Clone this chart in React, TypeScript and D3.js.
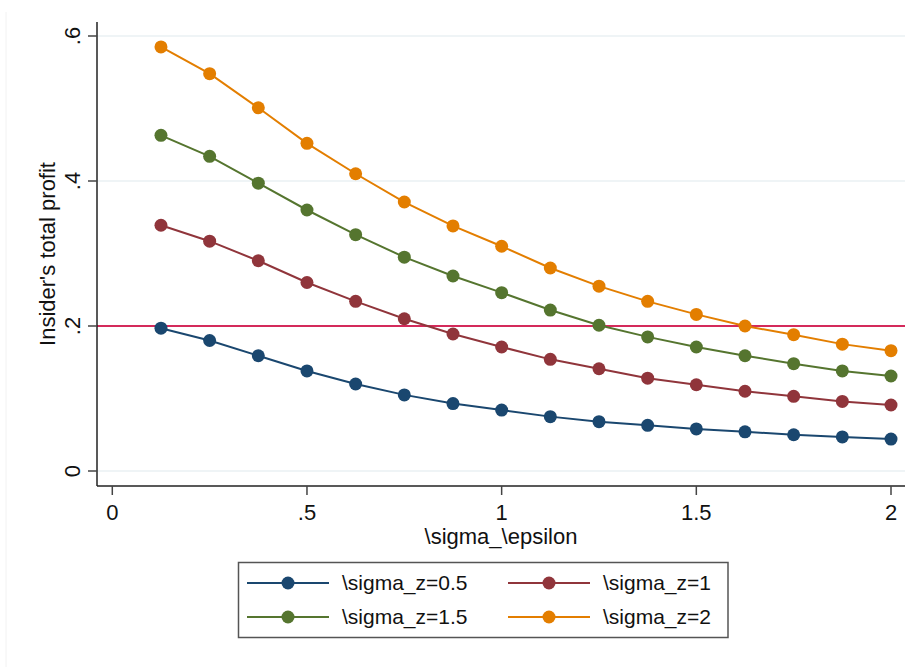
import React from "react";
import * as d3 from "d3";

const xValues = [0.125, 0.25, 0.375, 0.5, 0.625, 0.75, 0.875, 1, 1.125, 1.25, 1.375, 1.5, 1.625, 1.75, 1.875, 2];
const sz05 = [0.197, 0.180, 0.159, 0.138, 0.120, 0.105, 0.093, 0.084, 0.075, 0.068, 0.063, 0.058, 0.054, 0.050, 0.047, 0.044];
const sz1 = [0.339, 0.317, 0.290, 0.260, 0.234, 0.210, 0.189, 0.171, 0.154, 0.141, 0.128, 0.119, 0.110, 0.103, 0.096, 0.091];
const sz15 = [0.463, 0.434, 0.397, 0.360, 0.326, 0.295, 0.269, 0.246, 0.222, 0.201, 0.185, 0.171, 0.159, 0.148, 0.138, 0.131];
const sz2 = [0.585, 0.548, 0.501, 0.452, 0.410, 0.371, 0.338, 0.310, 0.280, 0.255, 0.234, 0.216, 0.200, 0.188, 0.175, 0.166];
const seriesNames = ["\\sigma_z=0.5", "\\sigma_z=1", "\\sigma_z=1.5", "\\sigma_z=2"];
const seriesColors = ["#1a476f", "#90353b", "#55752f", "#e37e00"];
const xTicks = [0, 0.5, 1, 1.5, 2];
const xTickLabels = ["0", ".5", "1", "1.5", "2"];
const yTicks = [0, 0.2, 0.4, 0.6];
const yTickLabels = ["0", ".2", ".4", ".6"];
const refLine = 0.2;

const FONT = "'Liberation Sans', Arial, Helvetica, sans-serif";

export default function App() {
  const W = 917, H = 667;
  const x = d3.scaleLinear().domain([0, 2]).range([112.3, 891]);
  const y = d3.scaleLinear().domain([0, 0.6]).range([471, 36]);
  const left = 97, right = 905, top = 22, bottom = 486;
  const series = [sz05, sz1, sz15, sz2];
  const line = d3.line<number>().x((_, i) => x(xValues[i])).y((d) => y(d));

  const legendItems = [
    { i: 0, lx: 247, ty: 583 },
    { i: 1, lx: 508, ty: 583 },
    { i: 2, lx: 247, ty: 617 },
    { i: 3, lx: 508, ty: 617 },
  ];

  return (
    <svg width={W} height={H} style={{ position: "absolute", left: 0, top: 0, background: "#fff" }} fontFamily={FONT}>
      <rect x={0} y={0} width={W} height={H} fill="#fff" />
      <line x1={6} x2={6} y1={12} y2={H} stroke="#f2f2f2" strokeWidth={1} />
      {/* grid */}
      {yTicks.map((t) => (
        <line key={"g" + t} x1={left} x2={right} y1={y(t)} y2={y(t)} stroke="#eaf1f3" strokeWidth={1.5} />
      ))}
      {/* reference line */}
      <line x1={left} x2={right} y1={y(refLine)} y2={y(refLine)} stroke="#d42a5b" strokeWidth={2} />
      {/* series */}
      {series.map((s, k) => (
        <g key={"s" + k}>
          <path d={line(s) || ""} fill="none" stroke={seriesColors[k]} strokeWidth={2} />
          {s.map((v, i) => (
            <circle key={i} cx={x(xValues[i])} cy={y(v)} r={6.5} fill={seriesColors[k]} />
          ))}
        </g>
      ))}
      {/* axes */}
      <line x1={left} x2={left} y1={top} y2={bottom} stroke="#222" strokeWidth={1.5} />
      <line x1={left} x2={right} y1={bottom} y2={bottom} stroke="#222" strokeWidth={1.5} />
      {yTicks.map((t, i) => (
        <g key={"yt" + t}>
          <line x1={left - 9} x2={left} y1={y(t)} y2={y(t)} stroke="#444" strokeWidth={1.5} />
          <text x={80} y={y(t)} transform={`rotate(-90 80 ${y(t)})`} textAnchor="middle" fontSize={22} fill="#111">
            {yTickLabels[i]}
          </text>
        </g>
      ))}
      {xTicks.map((t, i) => (
        <g key={"xt" + t}>
          <line x1={x(t)} x2={x(t)} y1={bottom} y2={bottom + 9} stroke="#444" strokeWidth={1.5} />
          <text x={x(t)} y={520} textAnchor="middle" fontSize={22} fill="#111">
            {xTickLabels[i]}
          </text>
        </g>
      ))}
      <text x={55} y={254} transform="rotate(-90 55 254)" textAnchor="middle" fontSize={22} fill="#111">
        Insider's total profit
      </text>
      <text x={501} y={544} textAnchor="middle" fontSize={22} fill="#111">
        \sigma_\epsilon
      </text>
      {/* legend */}
      <rect x={238.5} y={562.5} width={489.5} height={75} fill="#fff" stroke="#555" strokeWidth={1.5} />
      {legendItems.map((it) => (
        <g key={"l" + it.i}>
          <line x1={it.lx} x2={it.lx + 82} y1={it.ty} y2={it.ty} stroke={seriesColors[it.i]} strokeWidth={2} />
          <circle cx={it.lx + 41} cy={it.ty} r={6.5} fill={seriesColors[it.i]} />
          <text x={it.lx + 95} y={it.ty} dy="0.35em" fontSize={21} fill="#111">
            {seriesNames[it.i]}
          </text>
        </g>
      ))}
    </svg>
  );
}
